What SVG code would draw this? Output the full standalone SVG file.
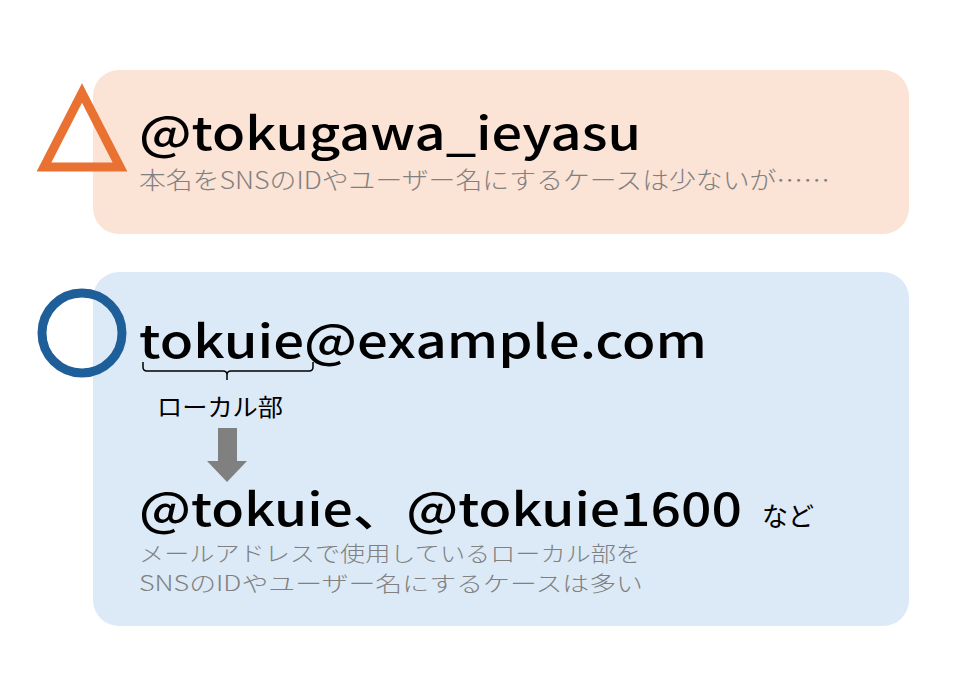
<svg xmlns="http://www.w3.org/2000/svg" width="960" height="680" viewBox="0 0 960 680">
<style>
.t{font-family:"Noto Sans CJK JP","Noto Sans",sans-serif}
.big{font-size:46px;font-weight:500;fill:#000}
.sub{font-size:24px;font-weight:300;fill:#808080}
.sub2{font-size:21px;font-weight:300;fill:#808080}
.lbl{font-size:24px;fill:#000}
</style>
<rect width="960" height="680" fill="#fff"/>
<g id="bad">
<rect x="93" y="70" width="816" height="164" rx="26" fill="#FBE3D6"/>
<polygon points="82,93 44,167 120,167" fill="none" stroke="#E97132" stroke-width="9"/>
<text class="t big" x="139" y="150" textLength="502" lengthAdjust="spacingAndGlyphs">@tokugawa_ieyasu</text>
<text class="t sub" x="139" y="189" textLength="691" lengthAdjust="spacingAndGlyphs">本名をSNSのIDやユーザー名にするケースは少ないが……</text>
</g>
<g id="good">
<rect x="93" y="272" width="816" height="354" rx="26" fill="#DCEAF7"/>
<circle cx="82" cy="333" r="40" fill="none" stroke="#1F5F99" stroke-width="9"/>
<text class="t big" x="139" y="358" textLength="568" lengthAdjust="spacingAndGlyphs">tokuie@example.com</text>
<path d="M143,362 V367 Q143,371 147,371 H223 Q227,371 227,375 V380 M227,375 Q227,371 231,371 H309 Q313,371 313,367 V362" fill="none" stroke="#000" stroke-width="1.5"/>
<text class="t lbl" x="157" y="416" textLength="126" lengthAdjust="spacingAndGlyphs">ローカル部</text>
<polygon points="218,428 237,428 237,461 247,461 227,482 207,461 218,461" fill="#808080"/>
<text class="t big" x="139" y="526" font-size="45" textLength="603" lengthAdjust="spacingAndGlyphs">@tokuie、@tokuie1600</text>
<text class="t" x="762" y="526" font-size="26" fill="#000">など</text>
<text class="t sub2" x="139" y="561" textLength="502" lengthAdjust="spacingAndGlyphs">メールアドレスで使用しているローカル部を</text>
<text class="t sub2" x="139" y="591" textLength="504" lengthAdjust="spacingAndGlyphs">SNSのIDやユーザー名にするケースは多い</text>
</g>
</svg>
